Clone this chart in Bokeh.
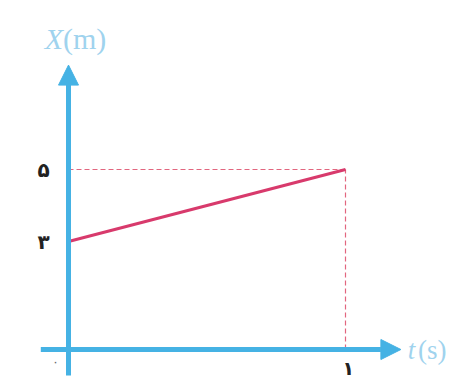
from bokeh.plotting import figure
from bokeh.models import Range1d, Arrow, NormalHead, Label
from bokeh.embed import file_html
from bokeh.resources import INLINE

# data
t_vals = [0, 1]
x_vals = [3, 5]
y_ticks = [3, 5]
y_tick_labels = ["۳", "۵"]
x_ticks = [1]
x_tick_labels = ["۱"]
origin_label = "۰"

W, H = 449, 383
px_per_t = 277.0
px_per_x = 36.0
t0_px, x0_px = 68.0, 349.0  # canvas-local pixel of the origin

p = figure(width=W, height=H, output_backend="svg", toolbar_location=None,
           x_range=Range1d(-t0_px / px_per_t, (W - t0_px) / px_per_t),
           y_range=Range1d(-(H - x0_px) / px_per_x, x0_px / px_per_x),
           min_border=0)
p.axis.visible = False
p.grid.visible = False
p.outline_line_color = None
p.background_fill_color = "white"
p.border_fill_color = "white"

axis_col = "#45b2e4"
dash_col = "#e2667f"
line_col = "#d83a6c"
label_col = "#9fd3ee"

# dashed guide lines
p.segment(x0=[0], y0=[x_vals[1]], x1=[t_vals[1]], y1=[x_vals[1]],
          line_color=dash_col, line_width=1.2, line_dash="5 3")
p.segment(x0=[t_vals[1]], y0=[0], x1=[t_vals[1]], y1=[x_vals[1]],
          line_color=dash_col, line_width=1.2, line_dash="5 3")

# axes with arrowheads
p.add_layout(Arrow(end=NormalHead(size=20, fill_color=axis_col, line_color=axis_col),
                   x_start=-0.10, y_start=0, x_end=1.20, y_end=0,
                   line_color=axis_col, line_width=5))
p.add_layout(Arrow(end=NormalHead(size=20, fill_color=axis_col, line_color=axis_col),
                   x_start=0, y_start=-0.72, x_end=0, y_end=7.9,
                   line_color=axis_col, line_width=5))

# main line
p.line(t_vals, x_vals, line_color=line_col, line_width=3)

# tick labels
for v, lab in zip(y_ticks, y_tick_labels):
    p.add_layout(Label(x=-0.09, y=v, text=lab, text_font="DejaVu Sans",
                       text_font_size="20px", text_font_style="bold",
                       text_color="#222222", text_align="center", text_baseline="middle"))
for v, lab in zip(x_ticks, x_tick_labels):
    p.add_layout(Label(x=v + 0.01, y=-0.5, text=lab, text_font="DejaVu Sans",
                       text_font_size="19px", text_font_style="bold",
                       text_color="#222222", text_align="center", text_baseline="middle"))
p.add_layout(Label(x=-0.047, y=-0.36, text=origin_label, text_font="DejaVu Sans",
                   text_font_size="12px", text_color="#666666",
                   text_align="center", text_baseline="middle"))

# axis titles
p.add_layout(Label(x=-0.02, y=8.64, text="X", text_font="Liberation Serif",
                   text_font_size="30px", text_font_style="italic", text_color=label_col,
                   text_align="right", text_baseline="middle"))
p.add_layout(Label(x=-0.02, y=8.64, text="(m)", text_font="Liberation Serif",
                   text_font_size="30px", text_color=label_col,
                   text_align="left", text_baseline="middle"))
p.add_layout(Label(x=1.225, y=0, text="t", text_font="Liberation Serif",
                   text_font_size="27px", text_font_style="italic", text_color=label_col,
                   text_align="left", text_baseline="middle"))
p.add_layout(Label(x=1.262, y=0, text="(s)", text_font="Liberation Serif",
                   text_font_size="27px", text_color=label_col,
                   text_align="left", text_baseline="middle"))

open("out.html", "w").write(file_html(p, INLINE))
